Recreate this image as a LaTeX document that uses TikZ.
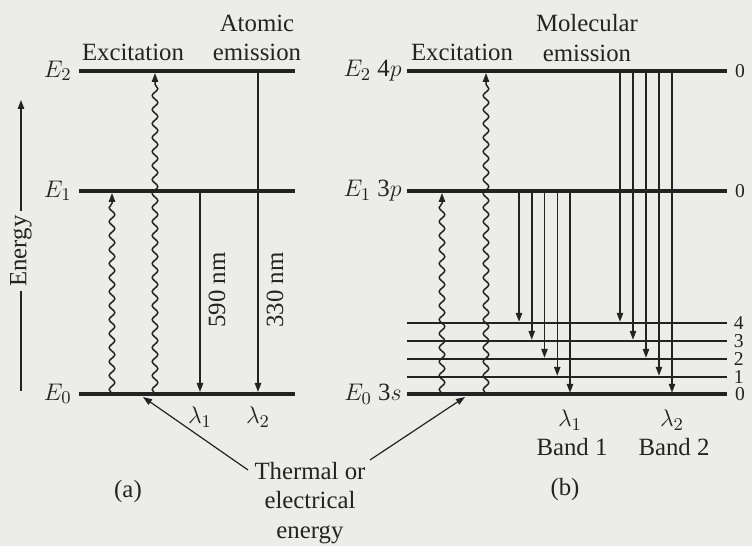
\documentclass[tikz,border=0pt]{standalone}
\usepackage{fontspec}
\setmainfont{Liberation Serif}
\usetikzlibrary{arrows.meta,decorations.pathmorphing}
\definecolor{paper}{RGB}{236,236,232}
\definecolor{ink}{RGB}{35,35,35}

\begin{document}
\begin{tikzpicture}[x=0.5pt,y=-0.5pt,>={Triangle[length=4.5pt,width=3.2pt]},font=\fontsize{12.4}{14.8}\selectfont,color=ink]
  \tikzstyle{thicklvl}=[line width=2pt]
  \tikzstyle{thinlvl}=[line width=0.8pt]
  \tikzstyle{emit}=[->,line width=0.75pt]
  \tikzstyle{excite}=[->,line width=0.75pt,decorate,decoration={snake,amplitude=1.4pt,segment length=7pt,post length=5pt}]
  \tikzstyle{vnum}=[anchor=west,inner sep=3pt,font=\fontsize{9.8}{11}\selectfont]

  \fill[paper] (0,0) rectangle (752,546);

  % (a) atomic levels
  \coordinate (aE2) at (79,71);
  \coordinate (aE1) at (79,191);
  \coordinate (aE0) at (79,394);
  \draw[thicklvl] (aE2) -- (295,71);
  \draw[thicklvl] (aE1) -- (295,191);
  \draw[thicklvl] (aE0) -- (295,394);
  \node[anchor=east,inner sep=3.5pt] (aL2) at (aE2) {$E_2$};
  \node[anchor=east,inner sep=3.5pt] (aL1) at (aE1) {$E_1$};
  \node[anchor=east,inner sep=3.5pt] (aL0) at (aE0) {$E_0$};

  \node (aexc) at (133,52) {Excitation};
  \node[align=center] (aemi) at (257,38) {Atomic\\emission};

  \coordinate (ebot) at (21,391);
  \coordinate (etop) at (21,100);
  \node[rotate=90,fill=paper,inner sep=2pt] (energy) at (21,251) {Energy};
  \draw[->,line width=0.75pt] (ebot) -- (energy) -- (etop);

  \draw[excite,shorten >=1pt] (112,0 |- aE0) -- (112,0 |- aE1);
  \draw[excite,shorten >=1pt] (155,0 |- aE0) -- (155,0 |- aE2);
  \draw[emit,shorten >=1pt] (200,0 |- aE1) -- (200,0 |- aE0);
  \draw[emit,shorten >=1pt] (258,0 |- aE2) -- (258,0 |- aE0);
  \node[rotate=90] (nm590) at (217,290) {590 nm};
  \node[rotate=90] (nm330) at (275,290) {330 nm};
  \node (alam1) at (200,417) {$\lambda_1$};
  \node (alam2) at (258,417) {$\lambda_2$};
  \node (capa) at (128,492) {(a)};

  % thermal source
  \node[align=center] (therm) at (310,503) {Thermal or\\electrical\\energy};
  \coordinate (thL) at (248,470);
  \coordinate (thR) at (370,460);
  \coordinate (hitA) at (143,397);
  \coordinate (hitB) at (465,397);
  \draw[emit,line width=0.6pt] (thL) -- (hitA);
  \draw[emit,line width=0.6pt] (thR) -- (hitB);

  % (b) molecular levels
  \coordinate (bE2) at (407,71);
  \coordinate (bE1) at (407,191);
  \coordinate (bE0) at (407,394);
  \coordinate (bV0) at (407,394);
  \draw[thicklvl] (bE2) -- (727,71) node[vnum] (bR2) {0};
  \draw[thicklvl] (bE1) -- (727,191) node[vnum] (bR1) {0};
  \draw[thicklvl] (bE0) -- (727,394) node[vnum] (bR0) {0};
  \foreach \v/\yy in {4/323,3/341,2/359,1/377}{
    \coordinate (bV\v) at (407,\yy);
    \draw[thinlvl] (bV\v) -- (727,\yy) node[vnum] (bN\v) {\v};
  }
  \node[anchor=east,inner sep=2.5pt] (bL2) at (bE2) {$E_2$ 4$p$};
  \node[anchor=east,inner sep=2.5pt] (bL1) at (bE1) {$E_1$ 3$p$};
  \node[anchor=east,inner sep=2.5pt] (bL0) at (bE0) {$E_0$ 3$s$};

  \node (bexc) at (462,52) {Excitation};
  \node[align=center] (bemi) at (587,38) {Molecular\\emission};

  \draw[excite,shorten >=1pt] (442,0 |- bE0) -- (442,0 |- bE1);
  \draw[excite,shorten >=1pt] (486,0 |- bE0) -- (486,0 |- bE2);

  \foreach \i/\v [evaluate=\i as \xa using 519+12.75*\i, evaluate=\i as \xb using 620+13*\i] in {0/4,1/3,2/2,3/1,4/0}{
    \draw[emit,shorten >=0.6pt] (\xa,0 |- bE1) -- (\xa,0 |- bV\v);
    \draw[emit,shorten >=0.6pt] (\xb,0 |- bE2) -- (\xb,0 |- bV\v);
  }

  \node (blam1) at (570,420) {$\lambda_1$};
  \node (blam2) at (672,420) {$\lambda_2$};
  \node (band1) at (572,447) {Band 1};
  \node (band2) at (674,447) {Band 2};
  \node (capb) at (565,490) {(b)};
\end{tikzpicture}
\end{document}
